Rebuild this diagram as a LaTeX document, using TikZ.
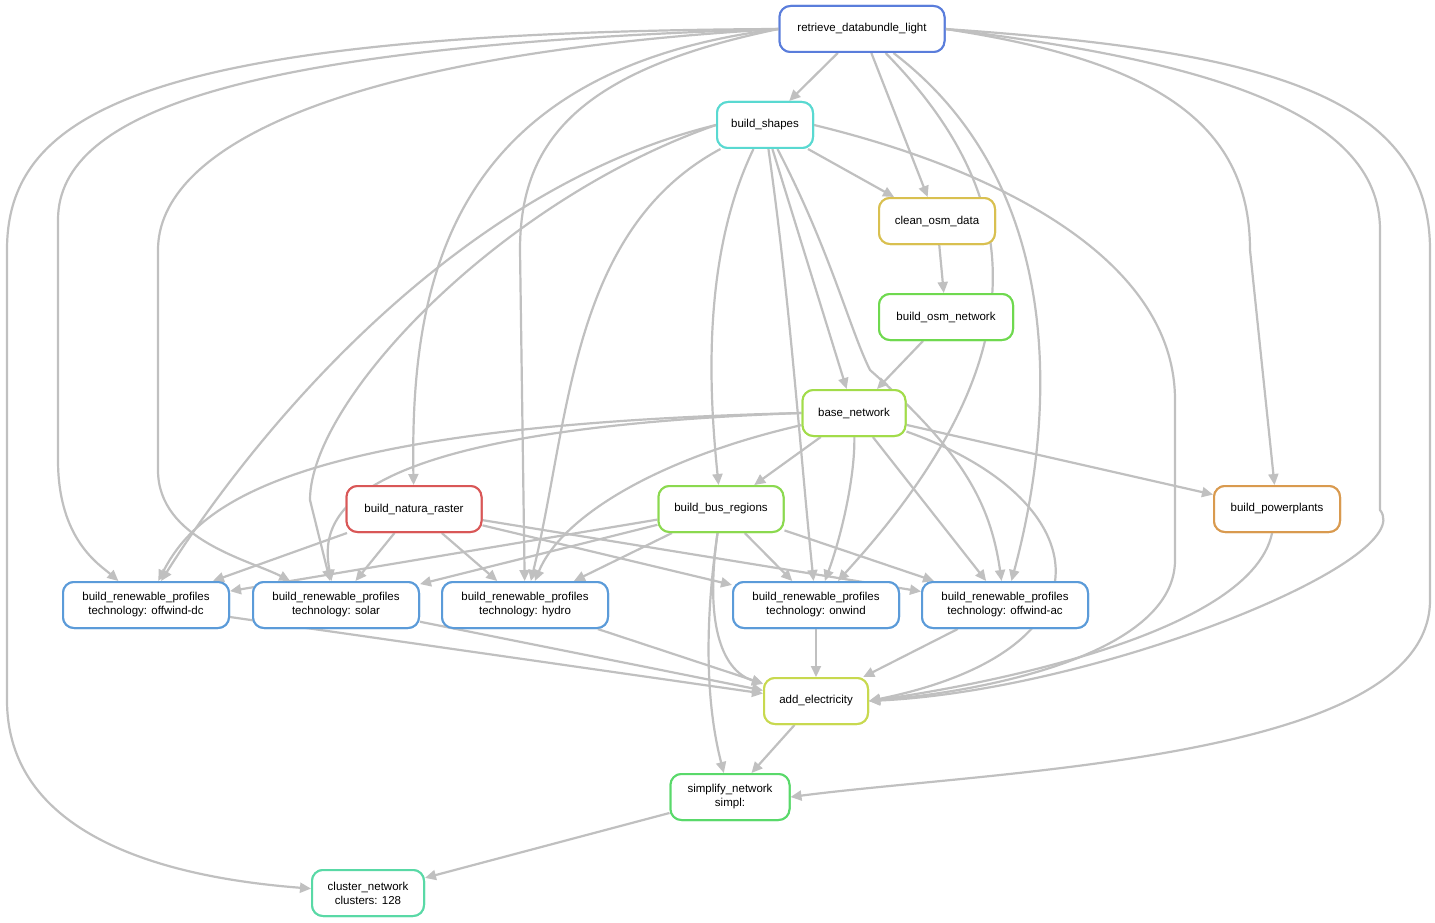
\documentclass[tikz,border=0pt]{standalone}
\usepackage{fontspec}
\setmainfont{Liberation Sans}
\usetikzlibrary{arrows.meta}
\definecolor{cRet}{HTML}{5A7DDB}\definecolor{cShp}{HTML}{59D9D1}
\definecolor{cCln}{HTML}{D9C050}\definecolor{cOsm}{HTML}{6FD94F}
\definecolor{cBase}{HTML}{A2DC4A}\definecolor{cNat}{HTML}{D95757}
\definecolor{cBus}{HTML}{8BD94F}\definecolor{cPP}{HTML}{D99A4F}
\definecolor{cRen}{HTML}{5B9BD9}\definecolor{cAdd}{HTML}{C8D94F}
\definecolor{cSim}{HTML}{59D96A}\definecolor{cClu}{HTML}{59D9A6}
\definecolor{cEdge}{HTML}{C0C0C0}
\begin{document}
\begin{tikzpicture}[x=1pt,y=-1pt,
 n/.style={draw=#1,rounded corners=11pt,line width=2pt,minimum height=46pt,align=center,fill=white,font=\fontsize{11.5}{14}\selectfont,inner sep=2pt},
 e/.style={draw=cEdge,line width=2.2pt,-{Triangle[length=11pt,width=10pt]}}]
\useasboundingbox[fill=white] (0,0) rectangle (1435,923);
\path
 (862,29) coordinate (pret) (765,125) coordinate (pshp) (937,221) coordinate (pcln)
 (946,317) coordinate (posm) (854,413) coordinate (pbase) (414,509) coordinate (pnat)
 (721,509) coordinate (pbus) (1277,509) coordinate (ppp) (146,605) coordinate (pdc)
 (336,605) coordinate (psol) (525,605) coordinate (phyd) (816,605) coordinate (pon)
 (1005,605) coordinate (pac) (816,701) coordinate (padd) (730,797) coordinate (psim)
 (368,893) coordinate (pclu);
\tikzset{
 Nret/.style={n=cRet,minimum width=165pt}, Nshp/.style={n=cShp,minimum width=96pt},
 Ncln/.style={n=cCln,minimum width=116pt}, Nosm/.style={n=cOsm,minimum width=134pt},
 Nbase/.style={n=cBase,minimum width=103pt}, Nnat/.style={n=cNat,minimum width=135pt},
 Nbus/.style={n=cBus,minimum width=125pt}, Npp/.style={n=cPP,minimum width=126pt},
 Nren/.style={n=cRen,minimum width=166pt}, Nadd/.style={n=cAdd,minimum width=104pt},
 Nsim/.style={n=cSim,minimum width=119pt}, Nclu/.style={n=cClu,minimum width=112pt}}
\node[Nret] (ret) at (pret) {retrieve\_databundle\_light};
\node[Nshp] (shp) at (pshp) {build\_shapes};
\node[Ncln] (cln) at (pcln) {clean\_osm\_data};
\node[Nosm] (osm) at (posm) {build\_osm\_network};
\node[Nbase] (base) at (pbase) {base\_network};
\node[Nnat] (nat) at (pnat) {build\_natura\_raster};
\node[Nbus] (bus) at (pbus) {build\_bus\_regions};
\node[Npp] (pp) at (ppp) {build\_powerplants};
\node[Nren] (dc) at (pdc) {build\_renewable\_profiles\\technology: offwind-dc};
\node[Nren] (sol) at (psol) {build\_renewable\_profiles\\technology: solar};
\node[Nren] (hyd) at (phyd) {build\_renewable\_profiles\\technology: hydro};
\node[Nren] (on) at (pon) {build\_renewable\_profiles\\technology: onwind};
\node[Nren] (ac) at (pac) {build\_renewable\_profiles\\technology: offwind-ac};
\node[Nadd] (add) at (padd) {add\_electricity};
\node[Nsim] (sim) at (psim) {simplify\_network\\simpl:};
\node[Nclu] (clu) at (pclu) {cluster\_network\\clusters: 128};
% retrieve
\draw[e] (ret.west) .. controls (150,32) and (7,110) .. (7,250) -- (7,700) .. controls (7,850) and (200,880) .. (clu);
\draw[e] (ret.west) .. controls (250,45) and (58,110) .. (58,220) -- (58,460) .. controls (58,540) and (100,565) .. (dc);
\draw[e] (ret.west) .. controls (330,55) and (158,150) .. (158,250) -- (158,470) .. controls (158,540) and (250,560) .. (sol);
\draw[e] (ret.west) .. controls (450,70) and (410,280) .. (nat);
\draw[e] (ret.west) .. controls (580,70) and (520,140) .. (520,250) -- (hyd);
\draw[e] (ret) -- (shp);
\draw[e] (ret) -- (cln);
\draw[e] (ret) .. controls (1030,200) and (1040,360) .. (on);
\draw[e] (ret) .. controls (1060,180) and (1060,400) .. (ac);
\draw[e] (ret.east) .. controls (1150,60) and (1250,120) .. (1250,250) -- (pp);
\draw[e] (ret.east) .. controls (1200,60) and (1380,110) .. (1380,230) -- (1380,510) .. controls (1420,560) and (1100,690) .. (add.east);
\draw[e] (ret.east) .. controls (1250,50) and (1430,90) .. (1430,250) -- (1430,600) .. controls (1430,760) and (1000,770) .. (sim.east);
% build_shapes
\draw[e] (shp.west) .. controls (450,190) and (250,440) .. (dc);
\draw[e] (shp.west) .. controls (500,200) and (310,400) .. (310,500) -- (sol);
\draw[e] (shp) .. controls (570,230) and (570,420) .. (hyd);
\draw[e] (shp) .. controls (700,260) and (710,400) .. (bus);
\draw[e] (shp) -- (base);
\draw[e] (shp) .. controls (790,300) and (800,450) .. (on);
\draw[e] (shp) .. controls (830,250) and (850,330) .. (870,370) .. controls (960,450) and (990,500) .. (ac);
\draw[e] (shp) -- (cln);
\draw[e] (shp.east) .. controls (1000,170) and (1175,260) .. (1175,400) -- (1175,560) .. controls (1175,650) and (1000,690) .. (add.east);
\draw[e] (cln) -- (osm);
\draw[e] (osm) -- (base);
% base
\draw[e] (base.west) .. controls (300,425) and (200,500) .. (dc);
\draw[e] (base.west) .. controls (330,430) and (320,520) .. (sol);
\draw[e] (base) .. controls (650,460) and (560,520) .. (hyd);
\draw[e] (base) -- (bus);
\draw[e] (base) .. controls (855,480) and (840,540) .. (on);
\draw[e] (base) -- (ac);
\draw[e] (base) -- (pp);
\draw[e] (base) .. controls (1100,500) and (1120,650) .. (add.east);
% natura
\draw[e] (nat) -- (dc); \draw[e] (nat) -- (sol); \draw[e] (nat) -- (hyd);
\draw[e] (nat) -- (on); \draw[e] (nat) -- (ac);
% bus
\draw[e] (bus) -- (dc); \draw[e] (bus) -- (sol); \draw[e] (bus) -- (hyd);
\draw[e] (bus) -- (on); \draw[e] (bus) -- (ac);
\draw[e] (bus) .. controls (705,620) and (720,670) .. (add);
\draw[e] (bus) .. controls (705,620) and (705,700) .. (sim);
% renewables
\draw[e] (dc) -- (add); \draw[e] (sol) -- (add); \draw[e] (hyd) -- (add);
\draw[e] (on) -- (add); \draw[e] (ac) -- (add);
\draw[e] (pp) .. controls (1250,640) and (950,690) .. (add.east);
\draw[e] (add) -- (sim);
\draw[e] (sim) -- (clu);
% nodes on top
\node[Nret] at (pret) {retrieve\_databundle\_light};
\node[Nshp] at (pshp) {build\_shapes};
\node[Ncln] at (pcln) {clean\_osm\_data};
\node[Nosm] at (posm) {build\_osm\_network};
\node[Nbase] at (pbase) {base\_network};
\node[Nnat] at (pnat) {build\_natura\_raster};
\node[Nbus] at (pbus) {build\_bus\_regions};
\node[Npp] at (ppp) {build\_powerplants};
\node[Nren] at (pdc) {build\_renewable\_profiles\\technology: offwind-dc};
\node[Nren] at (psol) {build\_renewable\_profiles\\technology: solar};
\node[Nren] at (phyd) {build\_renewable\_profiles\\technology: hydro};
\node[Nren] at (pon) {build\_renewable\_profiles\\technology: onwind};
\node[Nren] at (pac) {build\_renewable\_profiles\\technology: offwind-ac};
\node[Nadd] at (padd) {add\_electricity};
\node[Nsim] at (psim) {simplify\_network\\simpl:};
\node[Nclu] at (pclu) {cluster\_network\\clusters: 128};
\end{tikzpicture}
\end{document}
